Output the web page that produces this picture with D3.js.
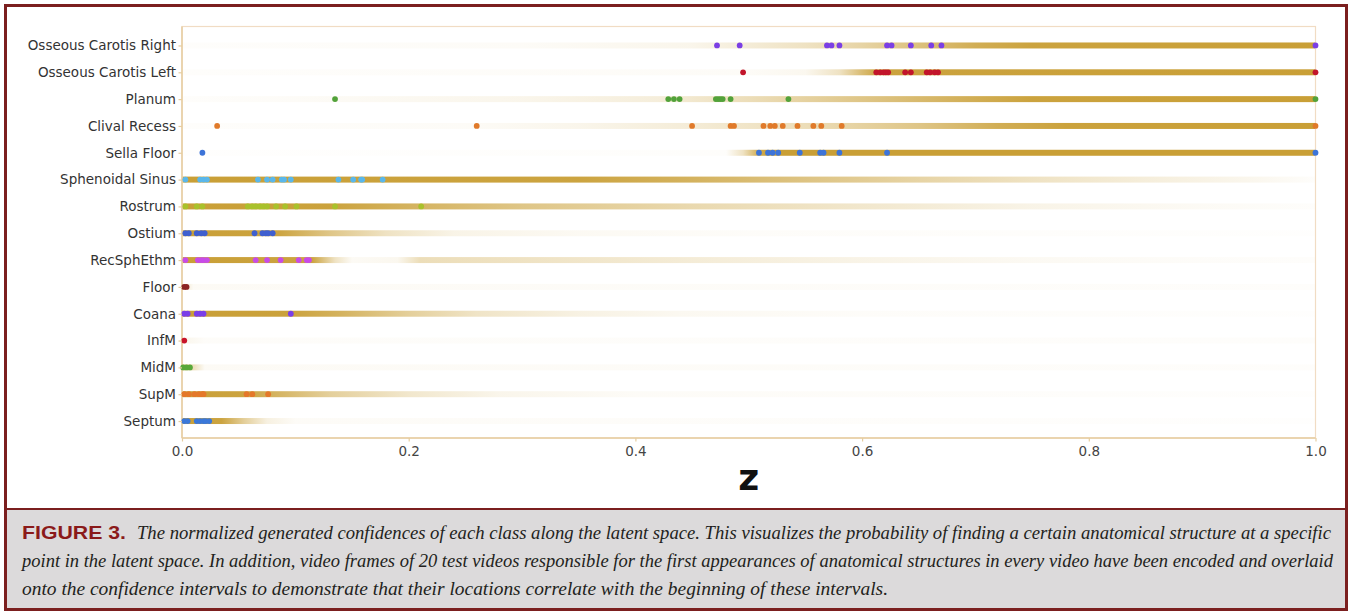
<!DOCTYPE html>
<html lang="en">
<head>
    <meta charset="UTF-8">
    <title>Figure 3</title>
    <script src="https://d3js.org/d3.v7.min.js"></script>
    <style>
        body { margin: 0; background: #fff; }
        svg { display: block; }
    </style>
</head>
<body>
    <svg width="1351" height="615"></svg>

    <script>
        // classes, top to bottom
        var classes = ["Osseous Carotis Right", "Osseous Carotis Left", "Planum", "Clival Recess",
            "Sella Floor", "Sphenoidal Sinus", "Rostrum", "Ostium", "RecSphEthm", "Floor",
            "Coana", "InfM", "MidM", "SupM", "Septum"];

        var dotColors = ["#7b3fe4", "#c2152b", "#52a23a", "#e07a2a", "#3d74d8", "#5ab7ea",
            "#a9c12b", "#3f5fcf", "#c84be8", "#8c2424", "#7a3ee8", "#c8142a", "#58a83a",
            "#e4782a", "#3b78d9"];

        // normalized confidence along z, [z, confidence]
        var confidence = [
            [[0, 0.02], [0.3, 0.04], [0.45, 0.1], [0.5, 0.2], [0.55, 0.3], [0.6, 0.45], [0.65, 0.65], [0.7, 0.85], [0.75, 0.96], [1, 1]],
            [[0, 0.02], [0.5, 0.04], [0.55, 0.08], [0.58, 0.3], [0.6, 0.7], [0.615, 0.96], [1, 1]],
            [[0, 0.02], [0.1, 0.04], [0.3, 0.1], [0.42, 0.18], [0.5, 0.35], [0.6, 0.6], [0.7, 0.85], [0.75, 0.96], [1, 1]],
            [[0, 0.02], [0.25, 0.04], [0.35, 0.1], [0.45, 0.2], [0.55, 0.35], [0.65, 0.6], [0.72, 0.85], [0.78, 0.97], [1, 1]],
            [[0, 0.01], [0.48, 0.02], [0.495, 0.3], [0.51, 0.9], [0.52, 1], [1, 1]],
            [[0, 1], [0.35, 0.95], [0.45, 0.8], [0.55, 0.62], [0.65, 0.45], [0.75, 0.3], [0.85, 0.18], [0.95, 0.08], [1, 0.02]],
            [[0, 1], [0.13, 0.97], [0.2, 0.8], [0.3, 0.6], [0.45, 0.4], [0.6, 0.25], [0.75, 0.12], [0.9, 0.05], [1, 0.02]],
            [[0, 1], [0.085, 0.95], [0.13, 0.6], [0.18, 0.3], [0.24, 0.12], [0.35, 0.06], [0.5, 0.03], [1, 0.01]],
            [[0, 1], [0.115, 0.95], [0.135, 0.3], [0.15, 0.05], [0.19, 0.08], [0.21, 0.35], [0.3, 0.3], [0.45, 0.2], [0.6, 0.12], [0.75, 0.06], [0.9, 0.03], [1, 0.02]],
            [[0, 0.3], [0.01, 0.05], [1, 0.02]],
            [[0, 1], [0.095, 0.97], [0.14, 0.8], [0.2, 0.5], [0.26, 0.28], [0.35, 0.14], [0.44, 0.07], [0.6, 0.03], [1, 0.01]],
            [[0, 0.1], [0.02, 0.03], [1, 0.02]],
            [[0, 0.6], [0.008, 0.4], [0.02, 0.05], [1, 0.02]],
            [[0, 1], [0.055, 0.95], [0.09, 0.75], [0.13, 0.5], [0.2, 0.25], [0.28, 0.1], [0.4, 0.04], [1, 0.01]],
            [[0, 1], [0.035, 0.95], [0.055, 0.5], [0.075, 0.15], [0.1, 0.04], [1, 0.01]]
        ];

        // encoded z of the first appearance frames of the 20 test videos
        var firstFrames = [
            [0.472, 0.492, 0.569, 0.573, 0.580, 0.622, 0.626, 0.643, 0.661, 0.670, 1.0],
            [0.495, 0.6125, 0.616, 0.619, 0.621, 0.623, 0.638, 0.643, 0.657, 0.660, 0.664, 0.667, 1.0],
            [0.135, 0.429, 0.434, 0.439, 0.471, 0.473, 0.475, 0.477, 0.484, 0.535, 1.0],
            [0.031, 0.260, 0.450, 0.484, 0.487, 0.513, 0.519, 0.523, 0.530, 0.543, 0.557, 0.564, 0.582, 1.0],
            [0.018, 0.509, 0.517, 0.521, 0.526, 0.545, 0.563, 0.566, 0.580, 0.622, 1.0],
            [0.003, 0.016, 0.019, 0.022, 0.067, 0.075, 0.080, 0.088, 0.090, 0.096, 0.138, 0.151, 0.158, 0.159, 0.177],
            [0.003, 0.013, 0.018, 0.058, 0.062, 0.065, 0.069, 0.072, 0.075, 0.083, 0.091, 0.101, 0.135, 0.211],
            [0.003, 0.006, 0.013, 0.017, 0.020, 0.064, 0.071, 0.074, 0.076, 0.080],
            [0.003, 0.014, 0.017, 0.019, 0.022, 0.065, 0.075, 0.087, 0.103, 0.110, 0.112],
            [0.002, 0.004],
            [0.002, 0.005, 0.013, 0.016, 0.019, 0.096],
            [0.002],
            [0.001, 0.004, 0.007],
            [0.002, 0.006, 0.011, 0.015, 0.018, 0.019, 0.057, 0.062, 0.076],
            [0.002, 0.005, 0.013, 0.016, 0.019, 0.021, 0.024]
        ];

        var xTicks = [0, 0.2, 0.4, 0.6, 0.8, 1.0];

        var caption1 = "The normalized generated confidences of each class along the latent space. This visualizes the probability of finding a certain anatomical structure at a specific";
        var caption2 = "point in the latent space. In addition, video frames of 20 test videos responsible for the first appearances of anatomical structures in every video have been encoded and overlaid";
        var caption3 = "onto the confidence intervals to demonstrate that their locations correlate with the beginning of these intervals.";
    </script>

    <script>
        var svg = d3.select("svg");
        var plotL = 182, plotR = 1315.5, plotT = 26.5, plotB = 438;
        var bandColor = "#c99f36",
            frameColor = "#e6cda0",
            border = "#7b1f1f";

        var x = d3.scaleLinear().domain([0, 1]).range([plotL, plotR]);
        var y = d3.scalePoint().domain(classes).range([plotT + 1, plotB + 1]).padding(0.67);

        // caption panel + figure border
        svg.append("rect")
            .attr("x", 5).attr("y", 509).attr("width", 1341).attr("height", 100)
            .attr("fill", "#dcdadb");
        svg.append("line")
            .attr("x1", 5).attr("x2", 1346).attr("y1", 509).attr("y2", 509)
            .attr("stroke", border).attr("stroke-width", 2);
        svg.append("rect")
            .attr("x", 5.5).attr("y", 5.5).attr("width", 1341).attr("height", 604)
            .attr("fill", "none").attr("stroke", border).attr("stroke-width", 3);

        // gradients from the confidence profiles
        var defs = svg.append("defs");
        classes.forEach(function (c, i) {
            var g = defs.append("linearGradient")
                .attr("id", "conf" + i)
                .attr("gradientUnits", "userSpaceOnUse")
                .attr("x1", x(0)).attr("x2", x(1))
                .attr("y1", 0).attr("y2", 0);
            g.selectAll("stop")
                .data(confidence[i])
                .enter().append("stop")
                .attr("offset", function (d) { return d[0]; })
                .attr("stop-color", bandColor)
                .attr("stop-opacity", function (d) { return d[1]; });
        });

        svg.append("g").selectAll("rect")
            .data(classes)
            .enter().append("rect")
            .attr("x", x(0))
            .attr("width", x(1) - x(0))
            .attr("y", function (d) { return y(d) - 3; })
            .attr("height", 6)
            .attr("fill", function (d, i) { return "url(#conf" + i + ")"; });

        // plot frame
        svg.append("rect")
            .attr("x", plotL).attr("y", plotT)
            .attr("width", plotR - plotL).attr("height", plotB - plotT)
            .attr("fill", "none").attr("stroke", "#f1dcc4").attr("stroke-width", 1.2);
        svg.append("line")
            .attr("x1", plotL).attr("x2", plotL).attr("y1", plotT).attr("y2", plotB)
            .attr("stroke", frameColor).attr("stroke-width", 1.5);
        svg.append("line")
            .attr("x1", plotL).attr("x2", plotR).attr("y1", plotB).attr("y2", plotB)
            .attr("stroke", frameColor).attr("stroke-width", 1.5);

        // first appearance dots
        var rows = svg.append("g").selectAll("g")
            .data(classes)
            .enter().append("g");
        rows.selectAll("circle")
            .data(function (d, i) { return firstFrames[i].map(function (v) { return {z: v, c: d, i: i}; }); })
            .enter().append("circle")
            .attr("cx", function (d) { return x(d.z); })
            .attr("cy", function (d) { return y(d.c); })
            .attr("r", 2.9)
            .attr("fill", function (d) { return dotColors[d.i]; });

        // axes
        var yAxis = svg.append("g")
            .attr("transform", "translate(" + plotL + ",0)")
            .call(d3.axisLeft(y).tickSize(3.5).tickPadding(2.5));
        var xAxis = svg.append("g")
            .attr("transform", "translate(0," + plotB + ")")
            .call(d3.axisBottom(x).tickValues(xTicks).tickFormat(d3.format(".1f")).tickSize(3.5).tickPadding(5));
        [yAxis, xAxis].forEach(function (a) {
            a.select(".domain").remove();
            a.selectAll("line").attr("stroke", frameColor).attr("stroke-width", 1.2);
            a.selectAll("text")
                .attr("fill", "#333")
                .style("font-family", "DejaVu Sans, sans-serif");
        });
        yAxis.selectAll("text").style("font-size", "13.5px");
        xAxis.selectAll("text").style("font-size", "13.5px").attr("fill", "#444");

        svg.append("text")
            .attr("x", (plotL + plotR) / 2)
            .attr("y", 490)
            .attr("text-anchor", "middle")
            .style("font-family", "DejaVu Sans, sans-serif")
            .style("font-size", "36px")
            .style("font-weight", "bold")
            .attr("fill", "#111")
            .text("z");

        // caption
        var serif = "Liberation Serif, 'DejaVu Serif', serif";
        svg.append("text")
            .attr("x", 22).attr("y", 539)
            .attr("textLength", 104)
            .attr("lengthAdjust", "spacingAndGlyphs")
            .style("font-family", "'Liberation Sans Narrow', 'Liberation Sans', sans-serif")
            .style("font-size", "19px")
            .style("font-weight", "bold")
            .attr("fill", "#8b1a1a")
            .text("FIGURE 3.");
        [[caption1, 137, 539, 1194], [caption2, 22, 567, 1311], [caption3, 22, 595, 866]].forEach(function (l) {
            svg.append("text")
                .attr("x", l[1]).attr("y", l[2])
                .attr("textLength", l[3])
                .attr("lengthAdjust", "spacingAndGlyphs")
                .style("font-family", serif)
                .style("font-style", "italic")
                .style("font-size", "18px")
                .attr("fill", "#231f20")
                .text(l[0]);
        });
    </script>
</body>
</html>
